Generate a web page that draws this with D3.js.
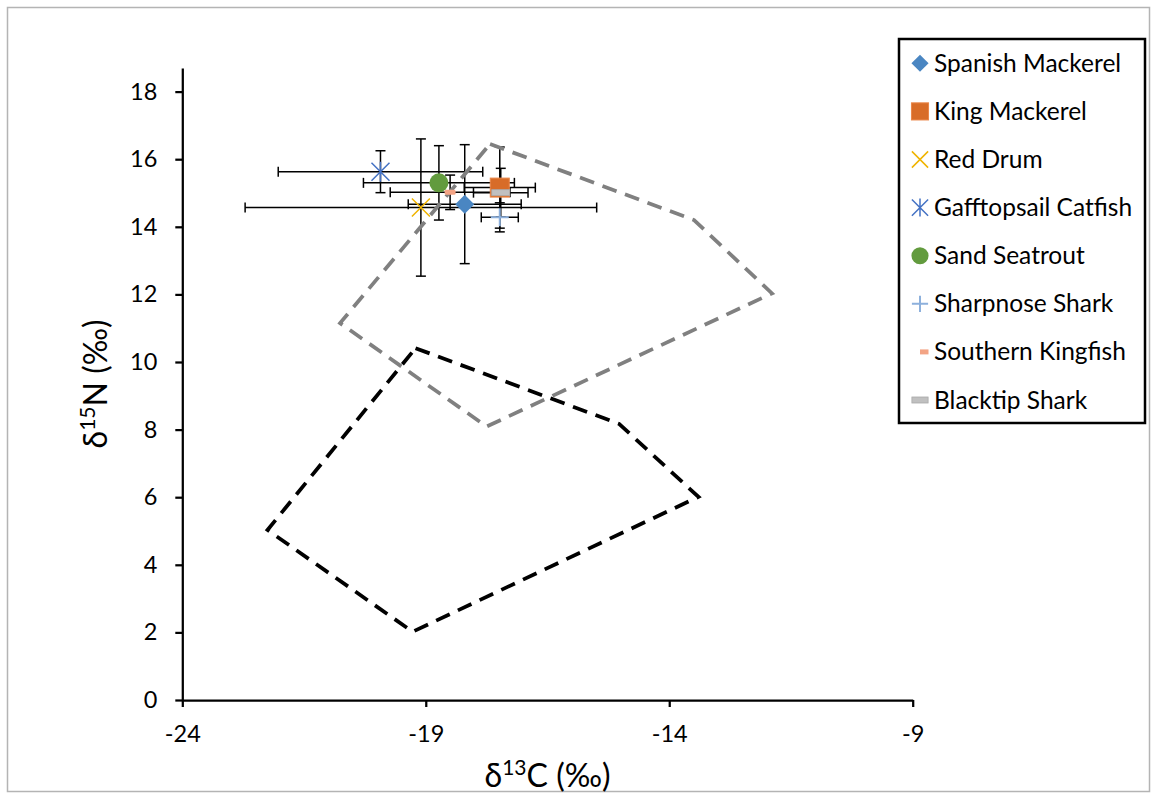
<!DOCTYPE html>
<html>
<head>
<meta charset="utf-8">
<script src="https://cdn.jsdelivr.net/npm/d3@7"></script>
<style>
  html, body { margin: 0; padding: 0; background: #fff; }
  svg { display: block; font-family: Lato, "Open Sans", sans-serif; }
</style>
</head>
<body>
<svg id="chart" width="1155" height="797"></svg>
<script>
// Species means and standard deviations (‰)
const species = ["Spanish Mackerel", "King Mackerel", "Red Drum", "Gafftopsail Catfish",
                 "Sand Seatrout", "Sharpnose Shark", "Southern Kingfish", "Blacktip Shark"];
const meanC = [-18.20, -17.48, -19.10, -19.93, -18.73, -17.48, -18.50, -17.46];
const meanN = [14.67, 15.16, 14.57, 15.63, 15.30, 14.28, 15.02, 15.01];
const sdC   = [1.16, 0.73, 3.61, 2.10, 1.55, 0.38, 1.23, 0.56];
const sdN   = [1.76, 1.20, 2.03, 0.62, 1.10, 0.43, 0.51, 0.72];

// Mixing polygons (vertices, closed)
const upperHullC = [-17.68, -13.49, -11.89, -17.75, -20.76];
const upperHullN = [16.45, 14.20, 12.03, 8.09, 11.15];
const lowerHullC = [-19.21, -15.03, -13.40, -19.27, -22.25];
const lowerHullN = [10.41, 8.17, 6.01, 2.02, 5.03];

// Axis ticks
const xTicks = [-24, -19, -14, -9];
const yTicks = [0, 2, 4, 6, 8, 10, 12, 14, 16, 18];

const svg = d3.select("#chart");
const W = 1155, H = 797;

// Outer chart frame
svg.append("rect").attr("x", 7.5).attr("y", 7.5).attr("width", W - 13).attr("height", H - 13)
  .attr("fill", "#fff").attr("stroke", "#b4b4b4").attr("stroke-width", 1.5);

const x = d3.scaleLinear().domain([-24, -9]).range([182.3, 912.7]);
const y = d3.scaleLinear().domain([0, 18.7]).range([700, 700 - 18.7 * 33.8]);

// Axes
const xAxis = svg.append("g").attr("transform", `translate(0,${y(0)})`)
  .call(d3.axisBottom(x).tickValues(xTicks).tickSize(7).tickPadding(18).tickSizeOuter(0)
        .tickFormat(d => d.toString().replace("\u2212", "-")));
const yAxis = svg.append("g").attr("transform", `translate(${x(-24)},0)`)
  .call(d3.axisLeft(y).tickValues(yTicks).tickSize(7).tickPadding(18).tickSizeOuter(0));
[xAxis, yAxis].forEach(g => {
  g.select(".domain").attr("stroke", "#000").attr("stroke-width", 2.25);
  g.selectAll(".tick line").attr("stroke", "#000").attr("stroke-width", 2.25);
  g.selectAll(".tick text").attr("fill", "#000").style("font-size", "23.5px")
    .style("font-family", "Lato, 'Open Sans', sans-serif");
});

// Axis titles
const xt = svg.append("text").attr("x", (x(-24) + x(-9)) / 2).attr("y", 787)
  .attr("text-anchor", "middle").style("font-size", "32px").attr("fill", "#000");
xt.append("tspan").text("δ");
xt.append("tspan").text("13").style("font-size", "21px").attr("dy", -12);
xt.append("tspan").text("C (‰)").attr("dy", 12);

const yt = svg.append("text")
  .attr("transform", `translate(107,${(y(0) + y(18.7)) / 2}) rotate(-90)`)
  .attr("text-anchor", "middle").style("font-size", "32px").attr("fill", "#000");
yt.append("tspan").text("δ");
yt.append("tspan").text("15").style("font-size", "21px").attr("dy", -12);
yt.append("tspan").text("N (‰)").attr("dy", 12);

// Error bars
const cap = 5;
const eb = svg.append("g").attr("stroke", "#000").attr("stroke-width", 1.5).attr("fill", "none");
species.forEach((s, i) => {
  const cx = x(meanC[i]), cy = y(meanN[i]);
  const x0 = x(meanC[i] - sdC[i]), x1 = x(meanC[i] + sdC[i]);
  const y0 = y(meanN[i] - sdN[i]), y1 = y(meanN[i] + sdN[i]);
  eb.append("line").attr("x1", x0).attr("x2", x1).attr("y1", cy).attr("y2", cy);
  eb.append("line").attr("x1", x0).attr("x2", x0).attr("y1", cy - cap).attr("y2", cy + cap);
  eb.append("line").attr("x1", x1).attr("x2", x1).attr("y1", cy - cap).attr("y2", cy + cap);
  eb.append("line").attr("x1", cx).attr("x2", cx).attr("y1", y0).attr("y2", y1);
  eb.append("line").attr("x1", cx - cap).attr("x2", cx + cap).attr("y1", y0).attr("y2", y0);
  eb.append("line").attr("x1", cx - cap).attr("x2", cx + cap).attr("y1", y1).attr("y2", y1);
});

// Polygons
const line = d3.line().x(d => x(d[0])).y(d => y(d[1])).curve(d3.curveLinearClosed);
const lowerPts = lowerHullC.map((c, i) => [c, lowerHullN[i]]);
const upperPts = upperHullC.map((c, i) => [c, upperHullN[i]]);
svg.append("path").attr("d", line(lowerPts)).attr("fill", "none").attr("stroke", "#000")
  .attr("stroke-width", 3.75).attr("stroke-dasharray", "15 9");
svg.append("path").attr("d", line(upperPts)).attr("fill", "none").attr("stroke", "#808080")
  .attr("stroke-width", 3.75).attr("stroke-dasharray", "15 9");

// Marker drawing
const colors = ["#4a86c2", "#d86c28", "#f0b400", "#4472c4", "#629b3e", "#8db0dc", "#f3a485", "#c0c0c0"];
function marker(g, i, cx, cy, k, legend) {
  const c = colors[i];
  switch (i) {
    case 0:
      g.append("path").attr("d", `M${cx},${cy - 9.5 * k}L${cx + 9.5 * k},${cy}L${cx},${cy + 9.5 * k}L${cx - 9.5 * k},${cy}Z`)
        .attr("fill", c);
      break;
    case 1:
      g.append("rect").attr("x", cx - 9.5 * k).attr("y", cy - 9.5 * k).attr("width", 19 * k).attr("height", 19 * k)
        .attr("fill", c).attr("stroke", "#ea8648").attr("stroke-width", 1);
      break;
    case 2:
      g.append("path").attr("d", `M${cx - 9 * k},${cy - 9 * k}L${cx + 9 * k},${cy + 9 * k}M${cx - 9 * k},${cy + 9 * k}L${cx + 9 * k},${cy - 9 * k}`)
        .attr("stroke", c).attr("stroke-width", 1.5).attr("fill", "none");
      break;
    case 3:
      g.append("path").attr("d", `M${cx - 9 * k},${cy - 9 * k}L${cx + 9 * k},${cy + 9 * k}M${cx - 9 * k},${cy + 9 * k}L${cx + 9 * k},${cy - 9 * k}M${cx},${cy - 10 * k}L${cx},${cy + 10 * k}`)
        .attr("stroke", c).attr("stroke-width", 1.5).attr("fill", "none");
      break;
    case 4:
      g.append("circle").attr("cx", cx).attr("cy", cy).attr("r", 9.5 * k).attr("fill", c);
      break;
    case 5:
      g.append("path").attr("d", `M${cx - 9 * k},${cy}L${cx + 9 * k},${cy}M${cx},${cy - 9 * k}L${cx},${cy + 9 * k}`)
        .attr("stroke", c).attr("stroke-width", 2).attr("fill", "none");
      break;
    case 6:
      if (legend) {
        g.append("rect").attr("x", cx).attr("y", cy - 2.5).attr("width", 8.5).attr("height", 5).attr("fill", c);
      } else {
        g.append("rect").attr("x", cx - 5.5).attr("y", cy - 2.5).attr("width", 11).attr("height", 5).attr("rx", 1.5).attr("fill", c);
      }
      break;
    case 7:
      g.append("rect").attr("x", cx - 9 * k).attr("y", cy - 3).attr("width", 18 * k).attr("height", 6)
        .attr("fill", c).attr("stroke", "#a9a9a9").attr("stroke-width", 0.8);
      break;
  }
}

const mk = svg.append("g");
species.forEach((s, i) => marker(mk, i, x(meanC[i]), y(meanN[i]), 1, false));

// Legend
const lg = svg.append("g");
lg.append("rect").attr("x", 899).attr("y", 39).attr("width", 246).attr("height", 384)
  .attr("fill", "#fff").attr("stroke", "#000").attr("stroke-width", 2.5);
species.forEach((s, i) => {
  const cy = 63.3 + i * 48.1;
  marker(lg, i, 920, cy, 0.9, true);
  lg.append("text").attr("x", 934).attr("y", cy + 8.5).text(s)
    .style("font-size", "24.5px").attr("fill", "#000");
});
</script>
</body>
</html>
